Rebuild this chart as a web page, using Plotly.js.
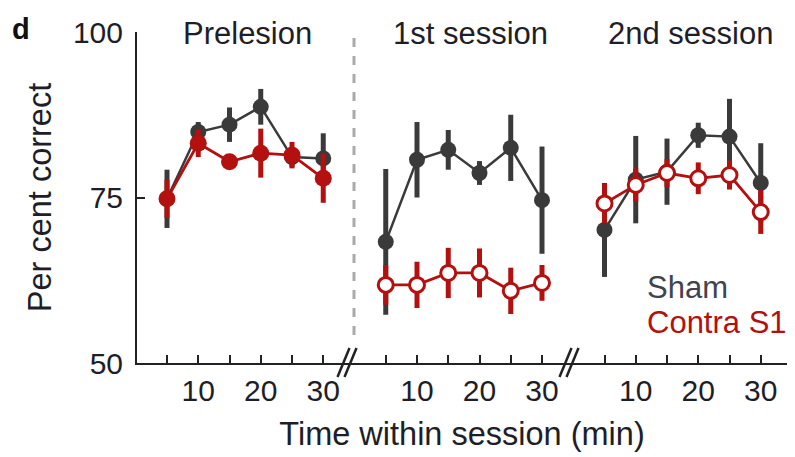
<!DOCTYPE html>
<html>
<head>
<meta charset="utf-8">
<script src="https://cdn.plot.ly/plotly-3.0.1.min.js"></script>
<style>html,body{margin:0;padding:0;background:#fff;}#chart{width:795px;height:457px;}</style>
</head>
<body>
<div id="chart"></div>
<script>
// ---- data ----
const sessions = ["Prelesion", "1st session", "2nd session"];
const minutes = [5, 10, 15, 20, 25, 30];
const tickLabels = ["", "10", "", "20", "", "30"];

const shamPre = [74.8, 84.9, 86.0, 88.7, 81.1, 80.9];
const shamPreErr = [4.4, 1.5, 2.6, 2.7, 1.5, 3.8];
const contraPre = [74.8, 83.2, 80.4, 81.7, 81.4, 77.9];
const contraPreErr = [2.9, 2.1, 1.0, 3.7, 2.0, 3.7];

const shamS1 = [68.3, 80.7, 82.2, 78.7, 82.5, 74.6];
const shamS1Err = [11.0, 5.7, 3.0, 1.8, 5.0, 8.1];
const contraS1 = [61.8, 61.8, 63.6, 63.6, 60.9, 62.1];
const contraS1Err = [3.0, 3.5, 3.8, 3.7, 3.5, 2.7];

const shamS2 = [70.1, 77.7, 78.9, 84.4, 84.2, 77.2];
const shamS2Err = [7.1, 6.6, 5.0, 1.9, 5.7, 6.0];
const contraS2 = [74.1, 76.9, 78.7, 77.9, 78.4, 72.8];
const contraS2Err = [3.0, 2.5, 2.1, 2.4, 2.2, 3.3];

const groups = ["Sham", "Contra S1"];

// ---- styling ----
const SHAM = "#3a3a3a";
const RED = "#b3100f";
const TXT = "#1e1e28";
const FONT = "Liberation Sans, Arial, sans-serif";
const FS_TICK = 30;
const FS_TITLE = 32.5;
const FS_ANN = 31;
const sessionGap = 35; // axis offset between session blocks (axis break)

const shamData = [[shamPre, shamPreErr], [shamS1, shamS1Err], [shamS2, shamS2Err]];
const contraData = [[contraPre, contraPreErr], [contraS1, contraS1Err], [contraS2, contraS2Err]];

function xs(i) { return minutes.map(m => m + i * sessionGap); }

const traces = [];
shamData.forEach((d, i) => {
  traces.push({
    type: "scatter", mode: "lines+markers", name: groups[0], showlegend: false,
    x: xs(i), y: d[0], cliponaxis: false,
    line: {color: SHAM, width: 2.5},
    marker: {color: SHAM, size: 16, symbol: "circle"},
    error_y: {type: "data", array: d[1], visible: true, color: SHAM, thickness: 5, width: 0}
  });
});
contraData.forEach((d, i) => {
  const open = i > 0;
  traces.push({
    type: "scatter", mode: "lines+markers", name: groups[1], showlegend: false,
    x: xs(i), y: d[0], cliponaxis: false,
    line: {color: RED, width: 2.8},
    marker: open ? {color: "#ffffff", size: 15, symbol: "circle", line: {color: RED, width: 3}}
                 : {color: RED, size: 17, symbol: "circle"},
    error_y: {type: "data", array: d[1], visible: true, color: RED, thickness: 5, width: 0}
  });
});

const tickvals = [], ticktext = [];
sessions.forEach((s, i) => { xs(i).forEach((v, k) => { tickvals.push(v); ticktext.push(tickLabels[k]); }); });

// paper-coordinate helpers for decorations
const L = 137, W = 650, T = 32, H = 331;
const px = p => (p - L) / W;
const py = p => (T + H - p) / H;

const shapes = [
  // dashed separator after prelesion
  {type: "line", xref: "paper", yref: "paper", x0: px(354), x1: px(354), y0: py(335), y1: py(35),
   line: {color: "#aaaaaa", width: 3, dash: "dash"}},
];
// axis break marks
[347, 569].forEach(c => {
  [-3.5, 3.5].forEach(o => {
    shapes.push({type: "line", xref: "paper", yref: "paper",
      x0: px(c + o - 6), x1: px(c + o + 6), y0: py(377), y1: py(348),
      line: {color: "#222", width: 2.5}});
  });
});

const annotations = [
  {text: "<b>d</b>", xref: "paper", yref: "paper", x: px(10), y: py(29), xanchor: "left", yanchor: "middle",
   showarrow: false, font: {family: FONT, size: 29, color: "#111"}},
  {text: sessions[0], xref: "paper", yref: "paper", x: px(247), y: py(34), xanchor: "center", yanchor: "middle", showarrow: false, font: {family: FONT, size: FS_ANN, color: TXT}},
  {text: sessions[1], xref: "paper", yref: "paper", x: px(470), y: py(34), xanchor: "center", yanchor: "middle", showarrow: false, font: {family: FONT, size: FS_ANN, color: TXT}},
  {text: sessions[2], xref: "paper", yref: "paper", x: px(690), y: py(34), xanchor: "center", yanchor: "middle", showarrow: false, font: {family: FONT, size: FS_ANN, color: TXT}},
  {text: groups[0], xref: "paper", yref: "paper", x: px(645), y: py(287), xanchor: "left", yanchor: "middle", showarrow: false, font: {family: FONT, size: FS_ANN, color: "#40444f"}},
  {text: groups[1], xref: "paper", yref: "paper", x: px(645), y: py(322), xanchor: "left", yanchor: "middle", showarrow: false, font: {family: FONT, size: FS_ANN, color: RED}},
];

const layout = {
  width: 795, height: 457,
  margin: {l: L, r: 795 - L - W, t: T, b: 457 - T - H, pad: 0},
  paper_bgcolor: "#fff", plot_bgcolor: "#fff",
  font: {family: FONT, size: FS_TICK, color: TXT},
  showlegend: false,
  xaxis: {
    range: [0.2, 104.2], showgrid: false, zeroline: false,
    showline: true, linecolor: "#222", linewidth: 2,
    ticks: "inside", ticklen: 8, tickwidth: 2, tickcolor: "#222",
    tickmode: "array", tickvals: tickvals, ticktext: ticktext,
    tickfont: {family: FONT, size: FS_TICK, color: TXT},
    title: {text: "Time within session (min)", standoff: 16, font: {family: FONT, size: FS_TITLE, color: TXT}}
  },
  yaxis: {
    range: [50, 100], showgrid: false, zeroline: false,
    showline: true, linecolor: "#222", linewidth: 2,
    ticks: "inside", ticklen: 8, tickwidth: 2, tickcolor: "#222",
    tickmode: "array", tickvals: [50, 75, 100], ticklabelstandoff: 6,
    tickfont: {family: FONT, size: FS_TICK, color: TXT},
    title: {text: "Per cent correct", standoff: 12, font: {family: FONT, size: FS_TITLE, color: TXT}}
  },
  shapes: shapes,
  annotations: annotations
};

Plotly.newPlot("chart", traces, layout, {staticPlot: true, displayModeBar: false});
</script>
</body>
</html>
